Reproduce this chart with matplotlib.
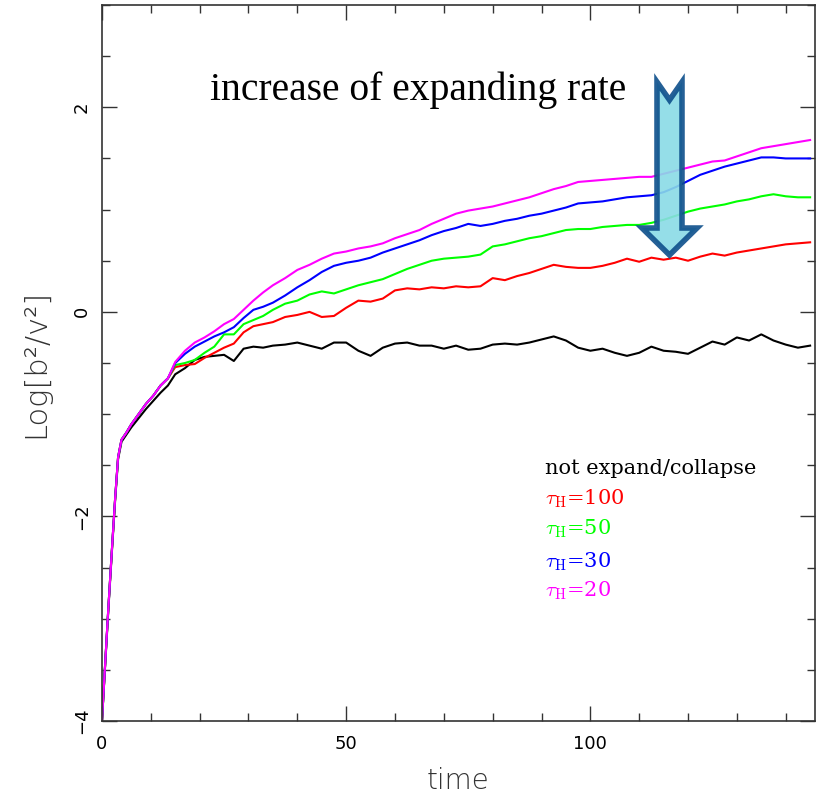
import matplotlib
matplotlib.use("Agg")
import matplotlib.pyplot as plt
from matplotlib.patches import Polygon
from matplotlib.ticker import MultipleLocator

# ---------------- data ----------------
time = [0, 0.7, 1.3, 2, 2.7, 3.3, 4, 5, 6, 7.5, 9, 10.5, 12, 13.5,
        15, 17, 19, 21, 23, 25, 27, 29, 31, 33, 35,
        37.5, 40, 42.5, 45, 47.5, 50, 52.5, 55, 57.5, 60, 62.5, 65, 67.5, 70,
        72.5, 75, 77.5, 80, 82.5, 85, 87.5, 90, 92.5, 95, 97.5, 100, 102.5,
        105, 107.5, 110, 112.5, 115, 117.5, 120, 122.5, 125, 127.5, 130,
        132.5, 135, 137.5, 140, 142.5, 145]

early_common = [-4.0, -3.4, -2.9, -2.35, -1.82, -1.42, -1.25, -1.18, -1.1,
                -1.0, -0.9, -0.82, -0.72, -0.65]
early_black = [-4.0, -3.42, -2.92, -2.37, -1.84, -1.44, -1.27, -1.2, -1.13,
               -1.04, -0.95, -0.87, -0.79, -0.72]

no_expand = early_black + [
    -0.61, -0.55, -0.47, -0.44, -0.43, -0.42, -0.48, -0.36, -0.34, -0.35, -0.33,
    -0.32, -0.30, -0.33, -0.36, -0.30, -0.30, -0.38, -0.43, -0.35, -0.31, -0.30,
    -0.33, -0.33, -0.36, -0.33, -0.37, -0.36, -0.32, -0.31, -0.32, -0.30, -0.27,
    -0.24, -0.28, -0.35, -0.38, -0.36, -0.40, -0.43, -0.40, -0.34, -0.38, -0.39,
    -0.41, -0.35, -0.29, -0.32, -0.25, -0.28, -0.22, -0.28, -0.32, -0.35, -0.33]

tau_100 = early_common + [
    -0.54, -0.52, -0.51, -0.45, -0.40, -0.35, -0.31, -0.20, -0.14, -0.12, -0.10,
    -0.05, -0.03, 0.00, -0.05, -0.04, 0.04, 0.11, 0.10, 0.13, 0.21, 0.23,
    0.22, 0.24, 0.23, 0.25, 0.24, 0.25, 0.33, 0.31, 0.35, 0.38, 0.42,
    0.46, 0.44, 0.43, 0.43, 0.45, 0.48, 0.52, 0.49, 0.53, 0.51, 0.53,
    0.50, 0.54, 0.57, 0.55, 0.58, 0.60, 0.62, 0.64, 0.66, 0.67, 0.68]

tau_50 = early_common + [
    -0.52, -0.50, -0.47, -0.40, -0.34, -0.22, -0.22, -0.12, -0.08, -0.04, 0.02,
    0.08, 0.11, 0.17, 0.20, 0.18, 0.22, 0.26, 0.29, 0.32, 0.37, 0.42,
    0.46, 0.50, 0.52, 0.53, 0.54, 0.56, 0.64, 0.66, 0.69, 0.72, 0.74,
    0.77, 0.80, 0.81, 0.81, 0.83, 0.84, 0.85, 0.85, 0.87, 0.90, 0.94,
    0.98, 1.01, 1.03, 1.05, 1.08, 1.10, 1.13, 1.15, 1.13, 1.12, 1.12]

tau_30 = early_common + [
    -0.50, -0.41, -0.34, -0.29, -0.24, -0.20, -0.15, -0.06, 0.02, 0.05, 0.09,
    0.16, 0.24, 0.31, 0.39, 0.45, 0.48, 0.50, 0.53, 0.58, 0.62, 0.66,
    0.70, 0.75, 0.79, 0.82, 0.86, 0.84, 0.86, 0.89, 0.91, 0.94, 0.96,
    0.99, 1.02, 1.06, 1.07, 1.08, 1.10, 1.12, 1.13, 1.14, 1.17, 1.22,
    1.28, 1.34, 1.38, 1.42, 1.45, 1.48, 1.51, 1.51, 1.50, 1.50, 1.50]

tau_20 = early_common + [
    -0.49, -0.38, -0.30, -0.25, -0.19, -0.12, -0.07, 0.02, 0.11, 0.19, 0.26,
    0.33, 0.41, 0.46, 0.52, 0.57, 0.59, 0.62, 0.64, 0.67, 0.72, 0.76,
    0.80, 0.86, 0.91, 0.96, 0.99, 1.01, 1.03, 1.06, 1.09, 1.12, 1.16,
    1.20, 1.23, 1.27, 1.28, 1.29, 1.30, 1.31, 1.32, 1.32, 1.35, 1.38,
    1.41, 1.44, 1.47, 1.48, 1.52, 1.56, 1.60, 1.62, 1.64, 1.66, 1.68]

series_labels = ["not expand/collapse", r"$\tau_{\rm H}$=100", r"$\tau_{\rm H}$=50",
                 r"$\tau_{\rm H}$=30", r"$\tau_{\rm H}$=20"]
series_values = [no_expand, tau_100, tau_50, tau_30, tau_20]
series_colors = ["#000000", "#ff0000", "#00ff00", "#0000ff", "#ff00ff"]

x_ticks = [0, 50, 100]
y_ticks = [-4, -2, 0, 2]
annotation_text = "increase of expanding rate"

# ---------------- figure ----------------
plt.rcParams["mathtext.fontset"] = "cm"
fig = plt.figure(figsize=(8.21, 7.94), dpi=100)
ax = fig.add_axes([0.1242, 0.0919, 0.8685, 0.9018])

for vals, col in zip(series_values, series_colors):
    ax.plot(time, vals, color=col, lw=1.5, solid_joinstyle="round")

ax.set_xlim(0, 146)
ax.set_ylim(-4, 3)
ax.set_xticks(x_ticks)
ax.set_yticks(y_ticks)
ax.xaxis.set_minor_locator(MultipleLocator(10))
ax.yaxis.set_minor_locator(MultipleLocator(0.5))
ax.tick_params(which="both", direction="in", top=True, right=True,
               color="#333333", width=1.0)
ax.tick_params(which="major", length=11)
ax.tick_params(which="minor", length=6)
ax.tick_params(axis="x", which="major", labelsize=13, pad=10)
ax.tick_params(axis="y", which="major", labelsize=13, pad=8, labelrotation=90)
for lab in ax.get_yticklabels():
    lab.set_va("center")
for sp in ax.spines.values():
    sp.set_color("#333333")
    sp.set_linewidth(1.2)

ax.set_xlabel("time", fontsize=20, family="DejaVu Sans", fontweight="light",
              color="#333333", labelpad=10)
ax.set_ylabel("Log[b²/v²]", fontsize=22, family="DejaVu Sans", fontweight="light",
              color="#333333", labelpad=16)

# legend as coloured text
legend_y = [0.353, 0.311, 0.268, 0.223, 0.182]
for lab, col, yy in zip(series_labels, series_colors, legend_y):
    ax.text(0.621, yy, lab, color=col, transform=ax.transAxes, fontsize=15,
            family="DejaVu Serif", va="center", ha="left")

# annotation
ax.text(0.151, 0.867, annotation_text, transform=ax.transAxes, fontsize=28.5,
        family="Liberation Serif", va="baseline", ha="left", color="black")

def frac(px, py):
    return ((px - 102) / 713.0, (721 - py) / 716.0)

arrow_px = [(657, 82), (669.5, 100), (682, 82), (682, 228), (697, 228),
            (669.5, 255), (642, 228), (657, 228)]
arrow = Polygon([frac(*p) for p in arrow_px], closed=True, transform=ax.transAxes,
                facecolor="#8adbe6", edgecolor="#0d4f8b", lw=4, alpha=0.9,
                joinstyle="miter", zorder=5)
ax.add_patch(arrow)

fig.savefig("out.png", dpi=100)
